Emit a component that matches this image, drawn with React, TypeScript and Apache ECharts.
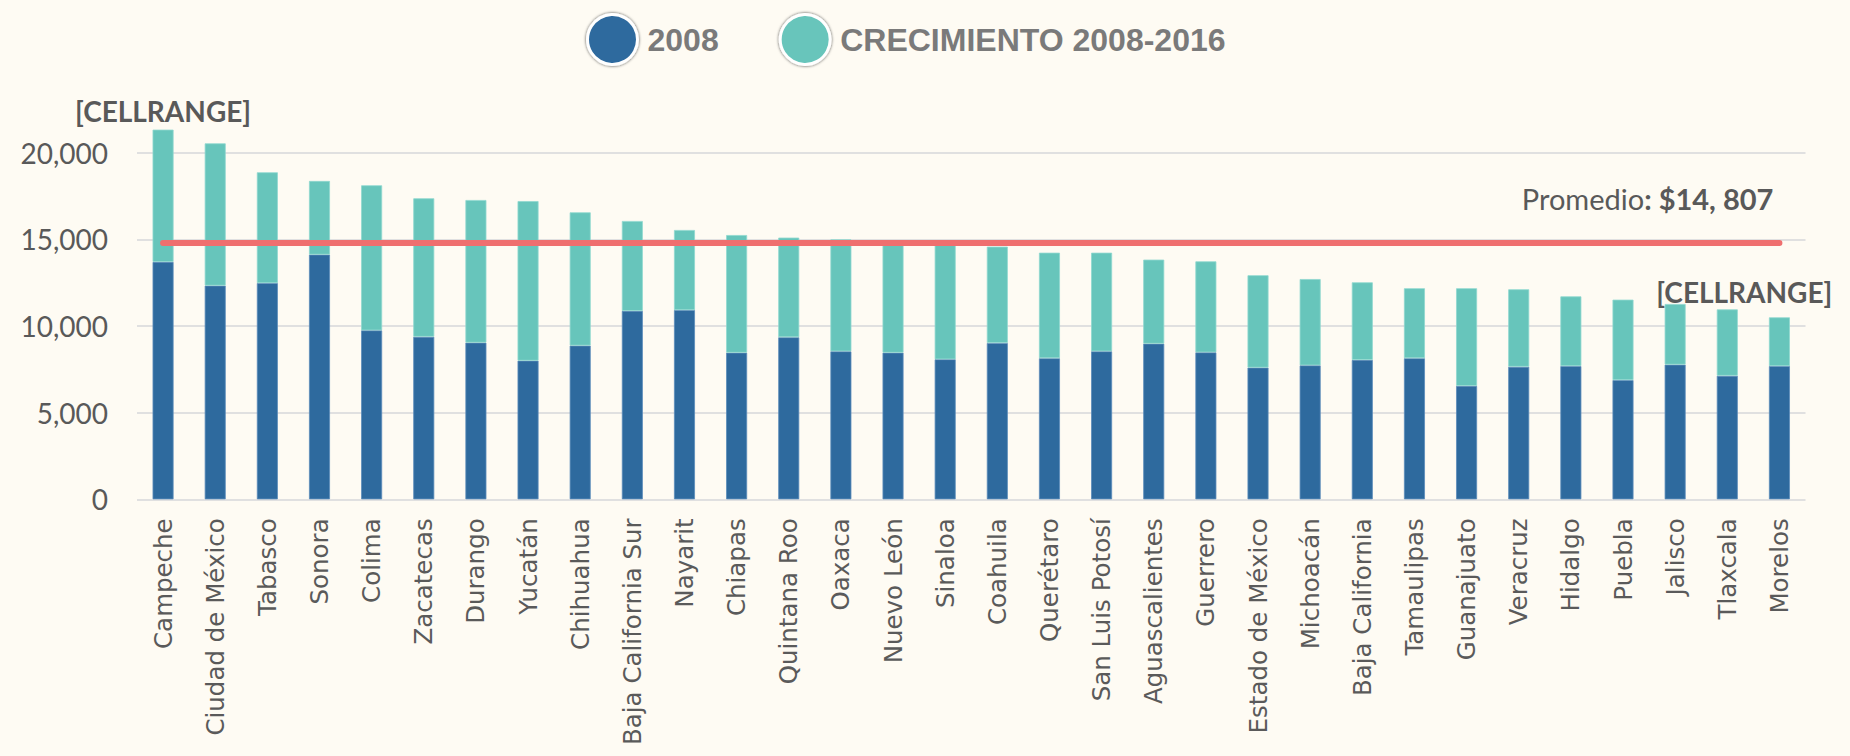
import React, { useEffect, useRef } from 'react';
import * as echarts from 'echarts';

const estados = [
  'Campeche', 'Ciudad de México', 'Tabasco', 'Sonora', 'Colima', 'Zacatecas', 'Durango', 'Yucatán',
  'Chihuahua', 'Baja California Sur', 'Nayarit', 'Chiapas', 'Quintana Roo', 'Oaxaca', 'Nuevo León',
  'Sinaloa', 'Coahuila', 'Querétaro', 'San Luis Potosí', 'Aguascalientes', 'Guerrero', 'Estado de México',
  'Michoacán', 'Baja California', 'Tamaulipas', 'Guanajuato', 'Veracruz', 'Hidalgo', 'Puebla', 'Jalisco',
  'Tlaxcala', 'Morelos',
];

const valores2008 = [
  13700, 12330, 12480, 14120, 9750, 9380, 9040, 8000,
  8870, 10870, 10920, 8460, 9350, 8540, 8460,
  8080, 9020, 8140, 8540, 8980, 8480, 7600,
  7730, 8040, 8140, 6540, 7650, 7690, 6880, 7770,
  7130, 7690,
];

const crecimiento = [
  7630, 8210, 6390, 4250, 8370, 7990, 8230, 9210,
  7690, 5190, 4620, 6790, 5750, 6460, 6320,
  6620, 5560, 6090, 5690, 4850, 5250, 5330,
  4980, 4480, 4040, 5640, 4470, 4020, 4640, 3500,
  3830, 2810,
];

const promedio = 14807;
const promedioTexto = '$14, 807';
const etiquetaRango = '[CELLRANGE]';
const serie2008 = '2008';
const serieCrecimiento = 'CRECIMIENTO 2008-2016';

export default function App() {
  const ref = useRef<HTMLDivElement>(null);

  useEffect(() => {
    document.body.style.margin = '0';
    if (!ref.current) return;
    const chart = echarts.init(ref.current, null, { renderer: 'svg' });

    const cellLabel = (offsetX: number, dist: number) => ({
      show: true,
      position: 'top',
      distance: dist,
      offset: [offsetX, 0],
      formatter: etiquetaRango,
      fontFamily: 'Lato',
      fontWeight: 'bold',
      fontSize: 28,
      color: '#595959',
    });

    const crecData = crecimiento.map((v, i) => {
      if (i === 0) return { value: v, label: cellLabel(0, 5) };
      if (i === 30) return { value: v, label: cellLabel(17, 3) };
      return v;
    });

    chart.setOption({
      animation: false,
      backgroundColor: '#fefbf3',
      textStyle: { fontFamily: 'Lato' },
      legend: {
        data: [serie2008, serieCrecimiento],
        left: 581,
        top: 8,
        icon: 'circle',
        itemWidth: 50,
        itemHeight: 50,
        itemGap: 60,
        itemStyle: {
          borderColor: '#ffffff',
          borderWidth: 3,
          shadowColor: 'rgba(0,0,0,0.7)',
          shadowBlur: 3,
        },
        textStyle: {
          fontFamily: '"Liberation Sans", Arial, sans-serif',
          fontWeight: 'bold',
          fontSize: 32,
          color: '#7a7a7a',
          padding: [0, 0, 0, 5],
        },
      },
      grid: {
        left: 137,
        right: 44.5,
        top: 118.05,
        bottom: 256.7,
        containLabel: false,
        outerBoundsMode: 'none',
      },
      xAxis: {
        type: 'category',
        data: estados,
        axisLine: { show: false },
        axisTick: { show: false },
        axisLabel: {
          rotate: 90,
          interval: 0,
          margin: 19,
          fontFamily: '"DejaVu Sans", sans-serif',
          fontSize: 24.5,
          color: '#5a5a5a',
        },
      },
      yAxis: {
        type: 'value',
        min: 0,
        max: 22000,
        interval: 5000,
        axisLine: { show: false },
        axisTick: { show: false },
        axisLabel: {
          margin: 29,
          fontFamily: 'Lato',
          fontSize: 28,
          color: '#595959',
          showMaxLabel: false,
          formatter: (v: number) => v.toLocaleString('en-US'),
        },
        splitLine: { show: true, showMaxLine: false, lineStyle: { color: '#e0e0e0', width: 2 } },
      },
      series: [
        {
          name: serie2008,
          type: 'bar',
          stack: 'total',
          barWidth: 21,
          data: valores2008,
          itemStyle: { color: '#2e6a9e', borderColor: '#5a8cba', borderWidth: 0.8 },
        },
        {
          name: serieCrecimiento,
          type: 'bar',
          stack: 'total',
          barWidth: 21,
          data: crecData,
          itemStyle: { color: '#67c5bb', borderColor: '#8fd8cf', borderWidth: 0.8 },
          markLine: {
            silent: true,
            symbol: ['none', 'none'],
            lineStyle: { color: '#ef6f6f', width: 6, type: 'solid', cap: 'round' },
            label: {
              show: true,
              position: 'insideEndTop',
              distance: [6, 30],
              formatter: '{a|Promedio}{b|: ' + promedioTexto + '}',
              rich: {
                a: { fontFamily: 'Lato', fontSize: 29, color: '#595959' },
                b: { fontFamily: 'Lato', fontSize: 29, fontWeight: 'bold', color: '#595959' },
              },
            },
            data: [
              [
                { coord: [estados[0], promedio] },
                { coord: [estados[estados.length - 1], promedio] },
              ],
            ],
          },
        },
      ],
    });

    return () => chart.dispose();
  }, []);

  return <div ref={ref} style={{ width: 1850, height: 756 }} />;
}
